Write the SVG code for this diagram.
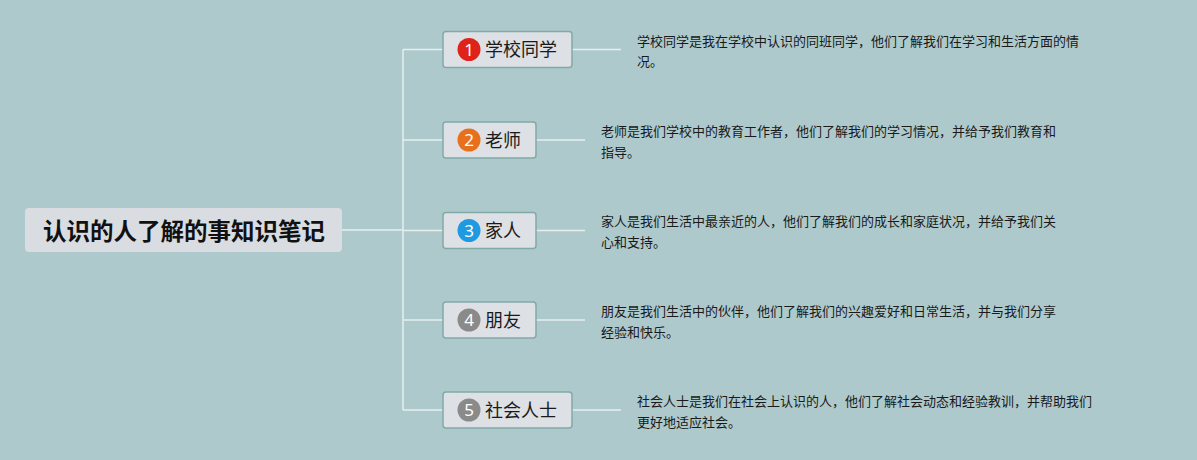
<svg xmlns="http://www.w3.org/2000/svg" width="1197" height="460" viewBox="0 0 1197 460">
<style>
.bg{fill:#aec9cc}
.ln{stroke:#e6eeee;stroke-width:1.5;fill:none}
.box{fill:#dde0e4;stroke:#80aaa6;stroke-width:1.5}
.lbl{font-family:"Noto Sans CJK SC","Noto Sans",sans-serif;font-size:18px;fill:#1a1a1a}
.num{font-family:"Noto Sans","Liberation Sans",sans-serif;font-size:17px;fill:#ffffff;text-anchor:middle}
.desc{font-family:"Noto Sans CJK SC","Noto Sans",sans-serif;font-size:13px;fill:#1a1a1a}
.root{font-family:"Noto Sans CJK SC","Noto Sans",sans-serif;font-size:23.5px;font-weight:bold;fill:#111;text-anchor:middle}
</style>
<rect class="bg" x="0" y="0" width="1197" height="460"/>
<g id="connectors">
<path class="ln" d="M342 230 H403 M403 49.5 V410 M403 49.5 H443 M403 140 H443 M403 230.5 H443 M403 320 H443 M403 410 H443"/>
<path class="ln" d="M572 49.5 H621 M536 140 H585 M536 230.5 H585 M536 320 H585 M572 410 H621"/>
</g>
<g id="root">
<rect x="25" y="208" width="317" height="44" rx="4" fill="#d9dce1"/>
<text class="root" x="184" y="240">认识的人了解的事知识笔记</text>
</g>
<g id="n1">
<rect class="box" x="443" y="31.5" width="129" height="36" rx="3"/>
<circle cx="469" cy="49.5" r="11.5" fill="#e0231a"/>
<text class="num" x="469" y="55.5">1</text>
<text class="lbl" x="485" y="56">学校同学</text>
<text class="desc" x="637" y="46">学校同学是我在学校中认识的同班同学，他们了解我们在学习和生活方面的情</text>
<text class="desc" x="637" y="66">况。</text>
</g>
<g id="n2">
<rect class="box" x="443" y="122" width="93" height="36" rx="3"/>
<circle cx="469" cy="140" r="11.5" fill="#e8701c"/>
<text class="num" x="469" y="146">2</text>
<text class="lbl" x="485" y="146.5">老师</text>
<text class="desc" x="601" y="136">老师是我们学校中的教育工作者，他们了解我们的学习情况，并给予我们教育和</text>
<text class="desc" x="601" y="157">指导。</text>
</g>
<g id="n3">
<rect class="box" x="443" y="212.5" width="93" height="36" rx="3"/>
<circle cx="469" cy="230.5" r="11.5" fill="#1f9ae0"/>
<text class="num" x="469" y="236.5">3</text>
<text class="lbl" x="485" y="237">家人</text>
<text class="desc" x="601" y="226">家人是我们生活中最亲近的人，他们了解我们的成长和家庭状况，并给予我们关</text>
<text class="desc" x="601" y="247">心和支持。</text>
</g>
<g id="n4">
<rect class="box" x="443" y="302" width="93" height="36" rx="3"/>
<circle cx="469" cy="320" r="11.5" fill="#8a8a8a"/>
<text class="num" x="469" y="326">4</text>
<text class="lbl" x="485" y="326.5">朋友</text>
<text class="desc" x="601" y="316">朋友是我们生活中的伙伴，他们了解我们的兴趣爱好和日常生活，并与我们分享</text>
<text class="desc" x="601" y="337">经验和快乐。</text>
</g>
<g id="n5">
<rect class="box" x="443" y="392" width="129" height="36" rx="3"/>
<circle cx="469" cy="410" r="11.5" fill="#8a8a8a"/>
<text class="num" x="469" y="416">5</text>
<text class="lbl" x="485" y="416.5">社会人士</text>
<text class="desc" x="637" y="406">社会人士是我们在社会上认识的人，他们了解社会动态和经验教训，并帮助我们</text>
<text class="desc" x="637" y="427">更好地适应社会。</text>
</g>
</svg>
